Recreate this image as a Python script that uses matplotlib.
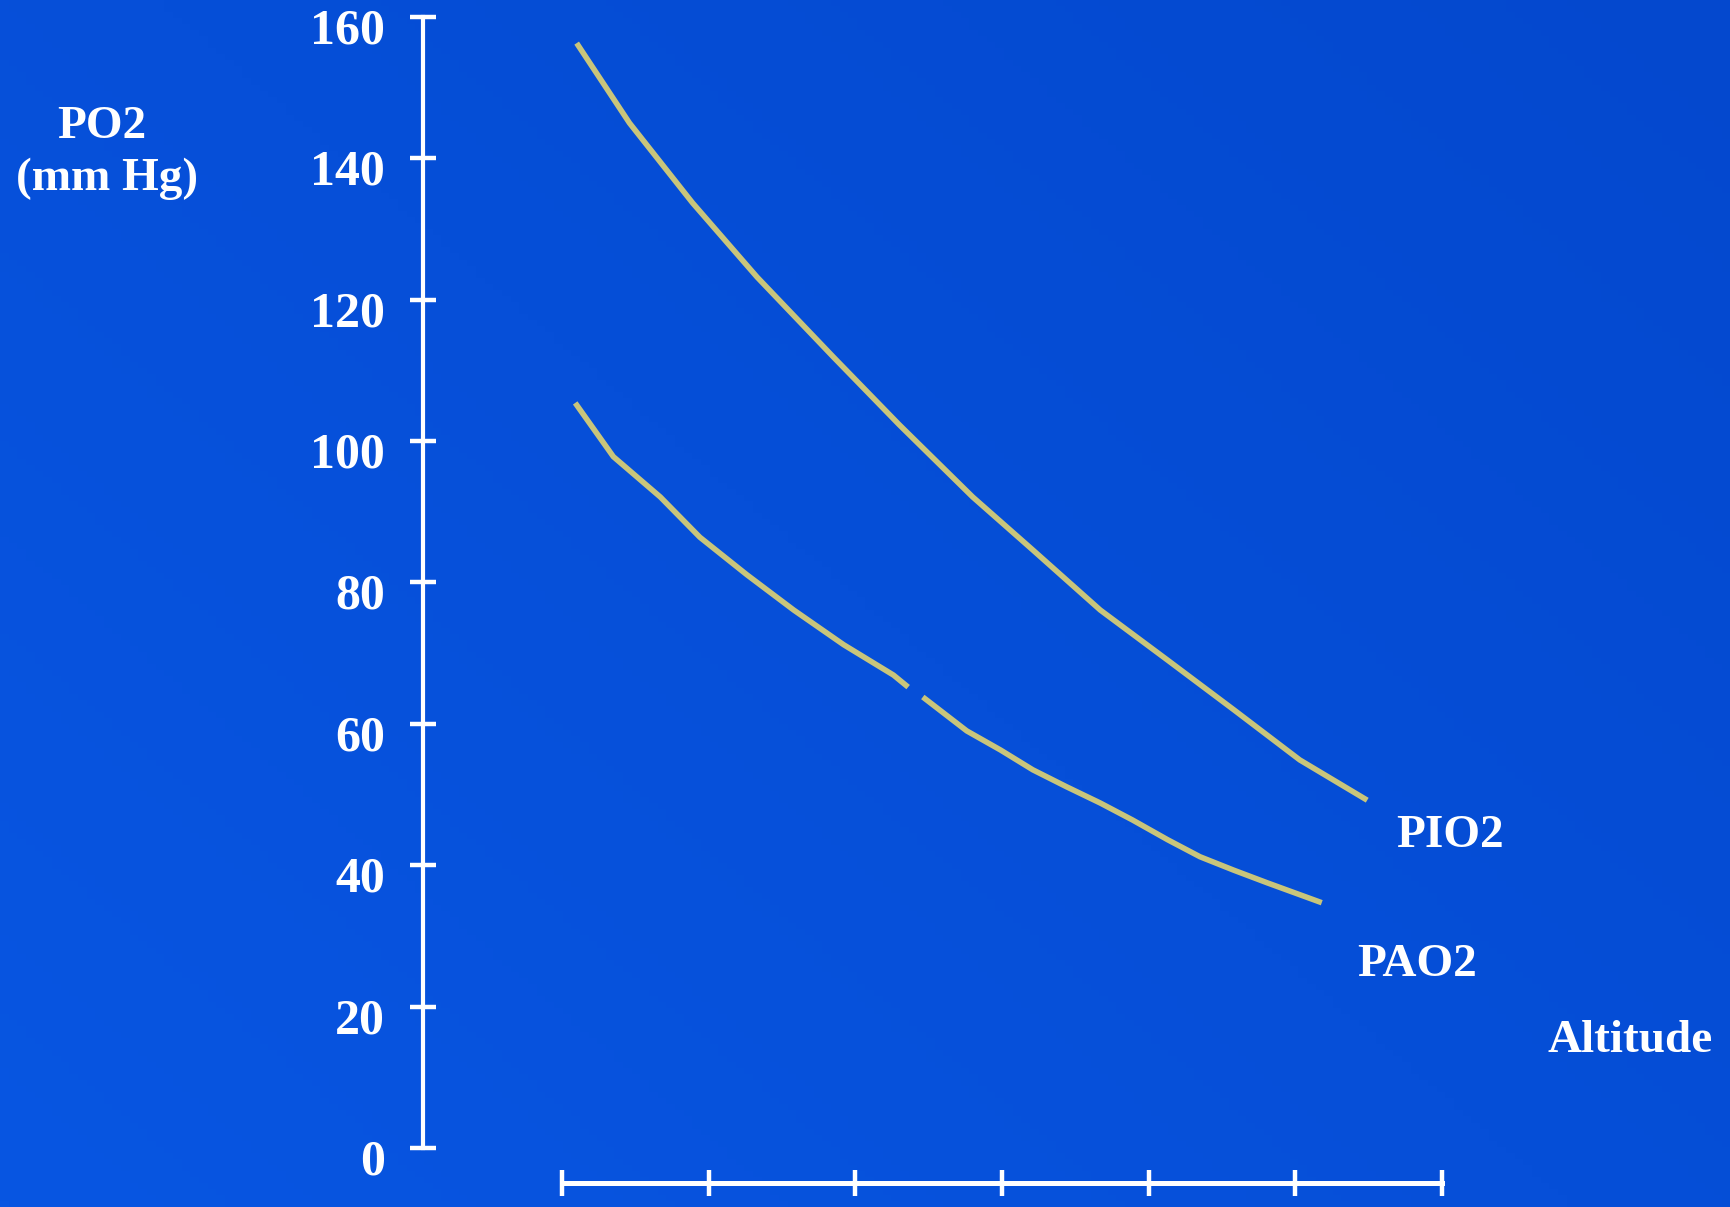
import numpy as np
import matplotlib.pyplot as plt
from matplotlib.transforms import ScaledTranslation

# altitude steps (unlabelled axis) and PO2 readings in mm Hg
pio2_x = [0.10, 0.46, 0.89, 1.33, 1.85, 2.30, 2.80, 3.21, 3.67, 4.13, 4.58, 5.03, 5.49]
pio2_y = [156.3, 145.0, 133.7, 123.2, 111.9, 102.3, 92.1, 84.6, 76.1, 69.0, 62.0, 54.9, 49.2]

pao2_x = [0.09, 0.35, 0.67, 0.94, 1.26, 1.58, 1.92, 2.26, 2.36, np.nan, 2.46, 2.76, 2.99, 3.21, 3.44, 3.67, 3.89, 4.13, 4.35, 4.58, 4.81, 5.18]
pao2_y = [105.4, 97.8, 92.1, 86.4, 81.1, 76.1, 71.2, 66.9, 65.2, np.nan, 63.8, 59.0, 56.3, 53.5, 51.1, 48.8, 46.4, 43.6, 41.2, 39.3, 37.5, 34.7]

y_ticks = [0, 20, 40, 60, 80, 100, 120, 140, 160]
x_ticks = [0, 1, 2, 3, 4, 5, 6]

W, H = 1731, 1207
fig = plt.figure(figsize=(W / 100, H / 100), dpi=100)
plt.rcParams['font.family'] = ['Liberation Serif', 'DejaVu Serif']

# gradient background
bg = fig.add_axes([0, 0, 1, 1])
gx, gy = np.meshgrid(np.linspace(0, 1, 200), np.linspace(0, 1, 200))
t = np.clip(0.55 * gx + 0.45 * gy, 0, 1)  # 0 at bottom-left, 1 at top-right (origin lower)
c0 = np.array([8, 86, 226]) / 255
c1 = np.array([4, 72, 206]) / 255
img = c0[None, None, :] * (1 - t[..., None]) + c1[None, None, :] * t[..., None]
bg.imshow(img, origin='lower', extent=[0, 1, 0, 1], aspect='auto')
bg.set_axis_off()

# main axes placed so that data maps onto reference pixel positions
px_x0, px_step = 562, 146.67
px_y0, px_unit = 1148, 7.069
left_px, bottom_px = 423, 1183
ax = fig.add_axes([left_px / W, (H - bottom_px) / H, 1 - left_px / W, bottom_px / H])
ax.patch.set_alpha(0)
ax.set_xlim((left_px - px_x0) / px_step, (W - px_x0) / px_step)
ax.set_ylim((px_y0 - bottom_px) / px_unit, px_y0 / px_unit)

line_col = '#c9c57b'
ax.plot(pio2_x, pio2_y, color=line_col, lw=4.0, solid_capstyle='butt')
ax.plot(pao2_x, pao2_y, color=line_col, lw=4.0, solid_capstyle='butt')

for s in ['top', 'right']:
    ax.spines[s].set_visible(False)
ax.spines['left'].set_color('white')
ax.spines['left'].set_linewidth(3.0)
ax.spines['left'].set_bounds(0, 160)
ax.spines['bottom'].set_color('white')
ax.spines['bottom'].set_linewidth(3.6)
ax.spines['bottom'].set_bounds(0, 6)

ax.set_yticks(y_ticks)
ax.set_xticks(x_ticks)
ax.set_xticklabels([])
ax.tick_params(axis='both', direction='inout', length=19, width=3.2, color='white')
ax.tick_params(axis='y', labelsize=36, labelcolor='white', pad=18)
for lab in ax.get_yticklabels():
    lab.set_fontweight('bold')
    lab.set_transform(lab.get_transform() + ScaledTranslation(0, -0.09, fig.dpi_scale_trans))


def ftext(x, y, s):
    fig.text(x / W, 1 - y / H, s, color='white', fontsize=34, fontweight='bold',
             ha='center', va='baseline')


ftext(102, 138, 'PO2')
ftext(107, 190, '(mm Hg)')
ftext(1450, 847, 'PIO2')
ftext(1417, 976, 'PAO2')
ftext(1630, 1052, 'Altitude')

fig.savefig('out.png', dpi=100)
